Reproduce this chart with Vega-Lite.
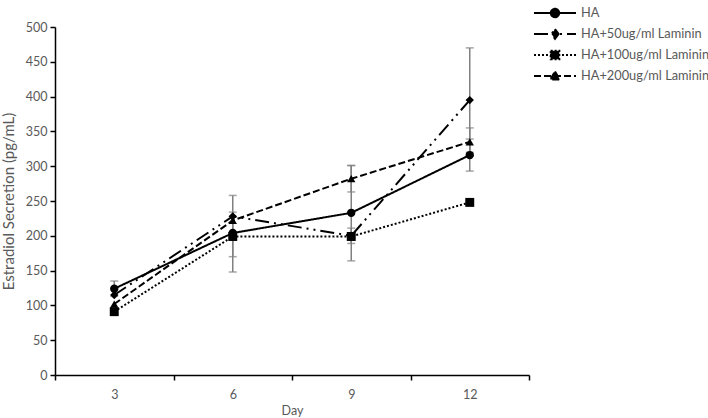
{
  "$schema": "https://vega.github.io/schema/vega-lite/v6.json",
  "width": 474,
  "height": 348,
  "autosize": {"type": "none"},
  "padding": {"left": 55, "top": 27, "right": 179, "bottom": 43},
  "background": "white",
  "config": {
    "font": "Lato",
    "view": {"stroke": null},
    "axis": {"labelFont": "Lato", "titleFont": "Lato", "labelColor": "#595959", "titleColor": "#595959", "labelFontSize": 12.5, "titleFontSize": 12.5, "titleFontWeight": "normal", "domainColor": "black", "tickColor": "black", "domainWidth": 1.5, "tickWidth": 1.5, "grid": false}
  },
  "datasets": {
    "means": [
      {"series": "HA", "day": 3, "value": 124},
      {"series": "HA", "day": 6, "value": 204},
      {"series": "HA", "day": 9, "value": 233},
      {"series": "HA", "day": 12, "value": 316},
      {"series": "HA+50ug/ml Laminin", "day": 3, "value": 115},
      {"series": "HA+50ug/ml Laminin", "day": 6, "value": 228},
      {"series": "HA+50ug/ml Laminin", "day": 9, "value": 200},
      {"series": "HA+50ug/ml Laminin", "day": 12, "value": 395},
      {"series": "HA+100ug/ml Laminin", "day": 3, "value": 91},
      {"series": "HA+100ug/ml Laminin", "day": 6, "value": 199},
      {"series": "HA+100ug/ml Laminin", "day": 9, "value": 199},
      {"series": "HA+100ug/ml Laminin", "day": 12, "value": 248},
      {"series": "HA+200ug/ml Laminin", "day": 3, "value": 102},
      {"series": "HA+200ug/ml Laminin", "day": 6, "value": 222},
      {"series": "HA+200ug/ml Laminin", "day": 9, "value": 282},
      {"series": "HA+200ug/ml Laminin", "day": 12, "value": 335}
    ],
    "errors": [
      {"series": "HA", "day": 3, "lo": 113, "hi": 135},
      {"series": "HA", "day": 6, "lo": 148, "hi": 258},
      {"series": "HA+100ug/ml Laminin", "day": 6, "lo": 170, "hi": 234},
      {"series": "HA", "day": 9, "lo": 164, "hi": 301},
      {"series": "HA+200ug/ml Laminin", "day": 9, "lo": 263, "hi": 301},
      {"series": "HA+100ug/ml Laminin", "day": 9, "lo": 189, "hi": 211},
      {"series": "HA+50ug/ml Laminin", "day": 12, "lo": 320, "hi": 470},
      {"series": "HA", "day": 12, "lo": 293, "hi": 339},
      {"series": "HA+200ug/ml Laminin", "day": 12, "lo": 315, "hi": 355}
    ]
  },
  "encoding": {
    "x": {
      "field": "day", "type": "ordinal",
      "scale": {"type": "band", "paddingInner": 0, "paddingOuter": 0},
      "axis": {"title": "Day", "labelAngle": 0, "tickBand": "extent", "tickSize": 5, "labelPadding": 8, "titlePadding": 4}
    }
  },
  "layer": [
    {
      "data": {"name": "errors"},
      "mark": {"type": "rule", "color": "#808080", "strokeWidth": 1.5},
      "encoding": {
        "y": {"field": "lo", "type": "quantitative", "scale": {"domain": [0, 500], "nice": false},
          "axis": {"title": "Estradiol Secretion  (pg/mL)", "values": [0, 50, 100, 150, 200, 250, 300, 350, 400, 450, 500], "tickCount": 20, "labelOverlap": false, "tickSize": 5, "labelPadding": 3, "titlePadding": 9, "titleFontSize": 15}},
        "y2": {"field": "hi"}
      }
    },
    {
      "data": {"name": "errors"},
      "mark": {"type": "tick", "color": "#808080", "thickness": 1.5, "size": 8, "orient": "horizontal"},
      "encoding": {"y": {"field": "lo", "type": "quantitative", "scale": {"domain": [0, 500], "nice": false},
          "axis": {"title": "Estradiol Secretion  (pg/mL)", "values": [0, 50, 100, 150, 200, 250, 300, 350, 400, 450, 500], "tickCount": 20, "labelOverlap": false, "tickSize": 5, "labelPadding": 3, "titlePadding": 9, "titleFontSize": 15}}}
    },
    {
      "data": {"name": "errors"},
      "mark": {"type": "tick", "color": "#808080", "thickness": 1.5, "size": 8, "orient": "horizontal"},
      "encoding": {"y": {"field": "hi", "type": "quantitative", "scale": {"domain": [0, 500], "nice": false},
          "axis": {"title": "Estradiol Secretion  (pg/mL)", "values": [0, 50, 100, 150, 200, 250, 300, 350, 400, 450, 500], "tickCount": 20, "labelOverlap": false, "tickSize": 5, "labelPadding": 3, "titlePadding": 9, "titleFontSize": 15}}}
    },
    {
      "data": {"name": "means"},
      "mark": {"type": "line", "color": "black", "strokeWidth": 2},
      "encoding": {
        "y": {"field": "value", "type": "quantitative", "scale": {"domain": [0, 500], "nice": false},
          "axis": {"title": "Estradiol Secretion  (pg/mL)", "values": [0, 50, 100, 150, 200, 250, 300, 350, 400, 450, 500], "tickCount": 20, "labelOverlap": false, "tickSize": 5, "labelPadding": 3, "titlePadding": 9, "titleFontSize": 15}},
        "strokeDash": {
          "field": "series", "type": "nominal",
          "scale": {
            "domain": ["HA", "HA+50ug/ml Laminin", "HA+100ug/ml Laminin", "HA+200ug/ml Laminin"],
            "range": [[1, 0], [14, 5, 2, 5, 2, 5], [2, 2], [7, 3]]
          },
          "legend": {
            "title": null,
            "orient": "none",
            "legendX": 508,
            "legendY": -21,
            "padding": 0,
            "symbolSize": 144,
            "rowPadding": 3,
            "labelOffset": 4,
            "labelFont": "Lato",
            "labelFontSize": 12.8,
            "labelColor": "#595959",
            "labelLimit": 300,
            "symbolStrokeWidth": 2,
            "symbolStrokeColor": "black",
            "encode": {
              "symbols": {
                "update": {
                  "shape": {"signal": "datum.value === 'HA' ? 'M-6,0L1,0M-3.2,0A0.7,0.7,0,1,1,-1.8,0A0.7,0.7,0,1,1,-3.2,0Z' : datum.value === 'HA+50ug/ml Laminin' ? 'M-6,0L1,0M-2.5,-0.8L-1.9,0L-2.5,0.8L-3.1,0Z' : datum.value === 'HA+100ug/ml Laminin' ? 'M-6,0L1,0M-3.22,-0.72L-1.78,-0.72L-1.78,0.72L-3.22,0.72Z' : 'M-6,0L1,0M-2.5,-0.75L-1.7,0.6L-3.3,0.6Z'"},
                  "fill": {"value": "black"},
                  "stroke": {"value": "black"}
                }
              }
            }
          }
        }
      }
    },
    {
      "data": {"name": "means"},
      "transform": [{"filter": "datum.series === 'HA'"}],
      "mark": {"type": "point", "shape": "circle", "filled": true, "color": "black", "opacity": 1, "size": 70},
      "encoding": {"y": {"field": "value", "type": "quantitative", "scale": {"domain": [0, 500], "nice": false},
          "axis": {"title": "Estradiol Secretion  (pg/mL)", "values": [0, 50, 100, 150, 200, 250, 300, 350, 400, 450, 500], "tickCount": 20, "labelOverlap": false, "tickSize": 5, "labelPadding": 3, "titlePadding": 9, "titleFontSize": 15}}}
    },
    {
      "data": {"name": "means"},
      "transform": [{"filter": "datum.series === 'HA+50ug/ml Laminin'"}],
      "mark": {"type": "point", "shape": "diamond", "filled": true, "color": "black", "opacity": 1, "size": 70},
      "encoding": {"y": {"field": "value", "type": "quantitative", "scale": {"domain": [0, 500], "nice": false},
          "axis": {"title": "Estradiol Secretion  (pg/mL)", "values": [0, 50, 100, 150, 200, 250, 300, 350, 400, 450, 500], "tickCount": 20, "labelOverlap": false, "tickSize": 5, "labelPadding": 3, "titlePadding": 9, "titleFontSize": 15}}}
    },
    {
      "data": {"name": "means"},
      "transform": [{"filter": "datum.series === 'HA+100ug/ml Laminin'"}],
      "mark": {"type": "point", "shape": "square", "filled": true, "color": "black", "opacity": 1, "size": 80},
      "encoding": {"y": {"field": "value", "type": "quantitative", "scale": {"domain": [0, 500], "nice": false},
          "axis": {"title": "Estradiol Secretion  (pg/mL)", "values": [0, 50, 100, 150, 200, 250, 300, 350, 400, 450, 500], "tickCount": 20, "labelOverlap": false, "tickSize": 5, "labelPadding": 3, "titlePadding": 9, "titleFontSize": 15}}}
    },
    {
      "data": {"name": "means"},
      "transform": [{"filter": "datum.series === 'HA+200ug/ml Laminin'"}],
      "mark": {"type": "point", "shape": "triangle-up", "filled": true, "color": "black", "opacity": 1, "size": 70},
      "encoding": {"y": {"field": "value", "type": "quantitative", "scale": {"domain": [0, 500], "nice": false},
          "axis": {"title": "Estradiol Secretion  (pg/mL)", "values": [0, 50, 100, 150, 200, 250, 300, 350, 400, 450, 500], "tickCount": 20, "labelOverlap": false, "tickSize": 5, "labelPadding": 3, "titlePadding": 9, "titleFontSize": 15}}}
    }
  ]
}
